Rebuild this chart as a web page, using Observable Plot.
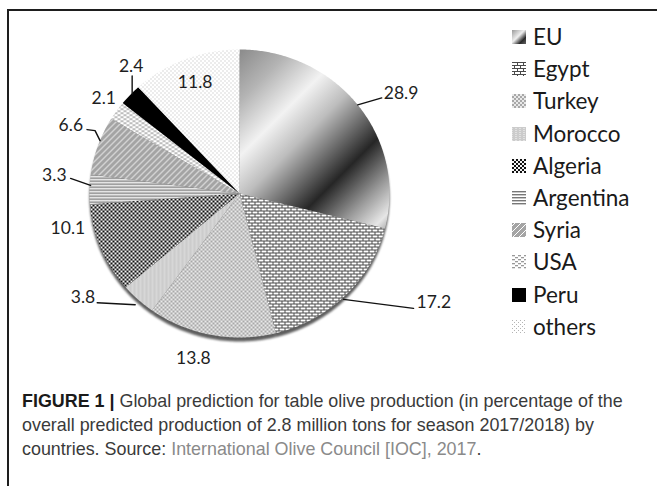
<!DOCTYPE html>
<html>
<head>
<meta charset="utf-8">
<script src="https://cdn.jsdelivr.net/npm/d3@7"></script>
<script src="https://cdn.jsdelivr.net/npm/@observablehq/plot@0.6"></script>
<style>
html, body { margin:0; padding:0; background:#fff; width:657px; height:486px; overflow:hidden; position:relative; }
#frame { position:absolute; left:7px; top:9px; width:700px; height:520px; border-left:2px solid #1e1e1e; border-top:2px solid #1e1e1e; pointer-events:none; z-index:5; }
.layer { position:absolute; left:0; top:0; }
#pie { filter: drop-shadow(0px 4px 1.2px rgba(40,40,40,0.75)); }
#legend { position:absolute; left:0; top:0; font-family:Lato, sans-serif; font-size:22.5px; color:#1a1a1a; }
.lrow { position:absolute; height:26px; line-height:26px; white-space:nowrap; }
.lsw { position:absolute; }
#caption { position:absolute; left:22px; top:389px; font-family:"Liberation Sans", Arial, sans-serif; font-size:16px; line-height:24px; color:#3a3a3a; white-space:nowrap; }
#caption b { color:#1a1a1a; }
#caption .src { color:#8a8a8a; }
#caption .ln { display:block; height:24px; }
#caption .ln span.w { display:inline-block; }
</style>
</head>
<body>
<svg width="0" height="0" style="position:absolute;left:0;top:0">
  <defs>
    <linearGradient id="f-EU" gradientUnits="userSpaceOnUse" x1="145" y1="145" x2="307.5" y2="307.5">
      <stop offset="0" stop-color="#8c8c8c"/>
      <stop offset="0.154" stop-color="#b4b4b4"/>
      <stop offset="0.323" stop-color="#f2f2f2"/>
      <stop offset="0.46" stop-color="#bdbdbd"/>
      <stop offset="0.692" stop-color="#262626"/>
      <stop offset="0.846" stop-color="#9a9a9a"/>
      <stop offset="0.954" stop-color="#e6e6e6"/>
      <stop offset="1" stop-color="#b0b0b0"/>
    </linearGradient>
    <linearGradient id="f-EU-sw" x1="0" y1="0" x2="1" y2="1">
      <stop offset="0" stop-color="#9a9a9a"/>
      <stop offset="0.45" stop-color="#f0f0f0"/>
      <stop offset="0.75" stop-color="#2a2a2a"/>
      <stop offset="1" stop-color="#666"/>
    </linearGradient>
    <pattern id="f-Egypt" patternUnits="userSpaceOnUse" width="6" height="6">
      <rect width="6" height="6" fill="#4a4a4a"/>
      <rect x="0" y="1" width="5" height="2" fill="#fff"/>
      <rect x="0" y="4" width="2" height="2" fill="#fff"/>
      <rect x="3" y="4" width="3" height="2" fill="#fff"/>
    </pattern>
    <pattern id="f-Turkey" patternUnits="userSpaceOnUse" width="4" height="4">
      <rect width="4" height="4" fill="#a8a8a8"/>
      <circle cx="1" cy="1" r="1" fill="#fff"/>
      <circle cx="3" cy="3" r="1" fill="#fff"/>
    </pattern>
    <pattern id="f-Morocco" patternUnits="userSpaceOnUse" width="4" height="4">
      <rect width="4" height="4" fill="#fff"/>
      <path d="M0 1.5 L1 0.5 L2 1.5 L3 0.5 L4 1.5 M0 3.5 L1 2.5 L2 3.5 L3 2.5 L4 3.5" stroke="#8a8a8a" stroke-width="1" fill="none"/>
    </pattern>
    <pattern id="f-Algeria" patternUnits="userSpaceOnUse" width="4" height="4">
      <rect width="4" height="4" fill="#f4f4f4"/>
      <rect x="0" y="0" width="2" height="2" fill="#111"/>
      <rect x="2" y="2" width="2" height="2" fill="#111"/>
    </pattern>
    <pattern id="f-Argentina" patternUnits="userSpaceOnUse" width="3" height="3">
      <rect width="3" height="3" fill="#fff"/>
      <rect x="0" y="0" width="3" height="1.4" fill="#777"/>
    </pattern>
    <pattern id="f-Syria" patternUnits="userSpaceOnUse" width="6" height="6">
      <rect width="6" height="6" fill="#a4a4a4"/>
      <path d="M0 3 L3 0 M3 6 L6 3" stroke="#fff" stroke-width="1" fill="none"/>
    </pattern>
    <pattern id="f-USA" patternUnits="userSpaceOnUse" width="6" height="4">
      <rect width="6" height="4" fill="#fff"/>
      <rect x="0" y="0" width="3" height="1.3" fill="#999"/>
      <rect x="3" y="2" width="3" height="1.3" fill="#999"/>
    </pattern>
    <pattern id="f-Peru" patternUnits="userSpaceOnUse" width="4" height="4">
      <rect width="4" height="4" fill="#000"/>
    </pattern>
    <pattern id="f-others" patternUnits="userSpaceOnUse" width="4" height="4">
      <rect width="4" height="4" fill="#fff"/>
      <rect x="0" y="0" width="1" height="1" fill="#b4b4b4"/>
      <rect x="2" y="2" width="1" height="1" fill="#b4b4b4"/>
    </pattern>
  </defs>
</svg>
<div id="pie" class="layer"></div>
<div id="labels" class="layer"></div>
<div id="legend"></div>
<div id="caption"><span class="ln"><span class="w" id="l1"><b>FIGURE 1 |</b> Global prediction for table olive production (in percentage of the</span></span><span class="ln">overall predicted production of 2.8 million tons for season 2017/2018) by</span><span class="ln">countries. Source: <span class="src">International Olive Council [IOC], 2017</span>.</span></div>
<div id="frame"></div>
<script>
// ---- data ----
const countries = ["EU", "Egypt", "Turkey", "Morocco", "Algeria", "Argentina", "Syria", "USA", "Peru", "others"];
const shares = [28.9, 17.2, 13.8, 3.8, 10.1, 3.3, 6.6, 2.1, 2.4, 11.8];
const valueLabels = ["28.9", "17.2", "13.8", "3.8", "10.1", "3.3", "6.6", "2.1", "2.4", "11.8"];

// ---- layout (label placement relative to slice edge midpoint, in px) ----
const labelLayout = [
  {dx: 26, dy: -11, anchor: "start", leader: [[0, 0], [24, -7]]},
  {dx: 71, dy: 7, anchor: "start", leader: [[-2, 4], [68, 13]]},
  {dx: -18, dy: 23, anchor: "middle", leader: null},
  {dx: -43, dy: -2, anchor: "end", leader: [[-3, 5], [-41, 3]]},
  {dx: -33, dy: -20, anchor: "middle", leader: null},
  {dx: -23, dy: -14, anchor: "end", leader: [[1, -4], [-19, -11]]},
  {dx: -15, dy: -20, anchor: "end", leader: [[2, -5], [-3, -15], [-11, -16]]},
  {dx: -13, dy: -12, anchor: "middle", leader: null},
  {dx: 1, dy: -29, anchor: "middle", leader: [[2, -1], [2, -19]]},
  {dx: 10, dy: 23, anchor: "middle", leader: null}
];

const CX = 239, CY = 193, RX = 150, RY = 144;
const W = 657, H = 372;

const arcs = d3.pie().sort(null).value(d => d)(shares);
const slices = arcs.map((a, i) => {
  const pts = [{x: 0, y: 0}];
  const n = Math.max(2, Math.ceil((a.endAngle - a.startAngle) / 0.01));
  for (let k = 0; k <= n; k++) {
    const t = a.startAngle + (a.endAngle - a.startAngle) * k / n;
    pts.push({x: Math.sin(t), y: Math.cos(t)});
  }
  pts.push({x: 0, y: 0});
  return {name: countries[i], pts};
});

const edge = arcs.map(a => {
  const m = (a.startAngle + a.endAngle) / 2;
  return {x: Math.sin(m), y: Math.cos(m)};
});
const off = (e, dx, dy) => ({x: e.x + dx / RX, y: e.y - dy / RY});

const labelData = arcs.map((a, i) => {
  const L = labelLayout[i];
  const p = off(edge[i], L.dx, L.dy);
  return {x: p.x, y: p.y, text: valueLabels[i], anchor: L.anchor};
});
const leaders = [];
labelLayout.forEach((L, i) => {
  if (!L.leader) return;
  leaders.push(L.leader.map(([dx, dy]) => off(edge[i], dx, dy)));
});

const scales = {
  width: W, height: H,
  x: {domain: [-1, 1], range: [CX - RX, CX + RX]},
  y: {domain: [-1, 1], range: [CY + RY, CY - RY]},
  axis: null,
  style: {background: "transparent", overflow: "visible"}
};

const pie = Plot.plot({
  ...scales,
  marks: slices.map(s => Plot.line(s.pts, {x: "x", y: "y", fill: `url(#f-${s.name})`, stroke: "none", curve: "linear"}))
});
document.getElementById("pie").append(pie);

const labels = Plot.plot({
  ...scales,
  marks: [
    ...leaders.map(l => Plot.line(l, {x: "x", y: "y", stroke: "#111", strokeWidth: 1.4, curve: "linear"})),
    ...["start", "middle", "end"].map(an => Plot.text(labelData.filter(d => d.anchor === an), {
      x: "x", y: "y", text: "text", textAnchor: an, fontSize: 17.5, fontFamily: "Lato, sans-serif", fill: "#1e1e1e"
    }))
  ]
});
document.getElementById("labels").append(labels);

// ---- legend ----
const legend = d3.select("#legend");
countries.forEach((c, i) => {
  const cy = 37 + i * 32.2;
  const sw = legend.append("svg").attr("class", "lsw").attr("width", 14).attr("height", 14)
    .style("left", "512px").style("top", (cy - 7) + "px");
  sw.append("rect").attr("width", 14).attr("height", 14).attr("fill", c === "EU" ? "url(#f-EU-sw)" : `url(#f-${c})`);
  legend.append("div").attr("class", "lrow").style("left", "533px").style("top", (cy - 13) + "px").text(c);
});

// ---- fit caption width to the reference line length ----
const l1 = document.getElementById("l1");
const w1 = l1.getBoundingClientRect().width;
const cap = document.getElementById("caption");
cap.style.fontSize = (16 * 601 / w1).toFixed(2) + "px";
</script>
</body>
</html>
